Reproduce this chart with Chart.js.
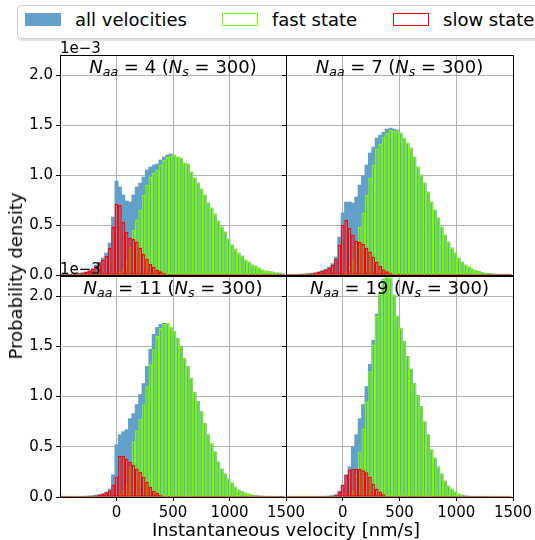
<!DOCTYPE html>
<html>
<head>
<meta charset="utf-8">
<script src="https://cdn.jsdelivr.net/npm/chart.js@4.4.1/dist/chart.umd.min.js"></script>
<style>
  html, body { margin: 0; padding: 0; background: #fff; }
  body { width: 535px; height: 540px; position: relative; overflow: hidden; font-family: "DejaVu Sans", sans-serif; color: #000; }
  canvas { position: absolute; }
  .legend { position: absolute; left: 17px; top: 5px; width: 540px; height: 32px; border: 1px solid #cfcfcf; border-radius: 4px; background: #fff; box-shadow: 1px 2px 1px rgba(0,0,0,0.12); }
  .legend .swatch { position: absolute; top: 7px; width: 36px; height: 13px; box-sizing: border-box; }
  .legend .name { position: absolute; top: 5px; font-size: 18px; line-height: 18px; white-space: nowrap; }
  .xlabel { position: absolute; left: 286px; top: 521px; transform: translateX(-50%); font-size: 18px; line-height: 18px; white-space: nowrap; }
  .ylabel { position: absolute; left: 15.5px; top: 276px; transform: translate(-50%, -50%) rotate(-90deg); font-size: 18px; line-height: 18px; white-space: nowrap; }
</style>
</head>
<body>

<div class="legend">
  <div class="swatch" style="left:7px; background: rgb(98,160,202);"></div>
  <div class="name" style="left:57px;">all velocities</div>
  <div class="swatch" style="left:204px; border: 1.5px solid #7cfc00;"></div>
  <div class="name" style="left:254px;">fast state</div>
  <div class="swatch" style="left:375px; border: 1.5px solid #ff0000;"></div>
  <div class="name" style="left:425px;">slow state</div>
</div>

<canvas id="c4" width="312" height="255" style="left:0px; top:35px;"></canvas>
<canvas id="c7" width="263" height="255" style="left:276px; top:35px;"></canvas>
<canvas id="c11" width="312" height="284" style="left:0px; top:256px;"></canvas>
<canvas id="c19" width="263" height="284" style="left:276px; top:256px;"></canvas>

<div class="ylabel">Probability density</div>
<div class="xlabel">Instantaneous velocity [nm/s]</div>

<script>
// histogram bins: 30 nm/s wide, centres from -480 to 1470
const binStart = -480;
const binWidth = 30;
const binCenters = Array.from({ length: 66 }, (_, i) => binStart + i * binWidth);

const xTicks = [0, 500, 1000, 1500];
const yTicks = [0, 0.5, 1.0, 1.5, 2.0];

// densities in units of 1e-3
const all4 = [
  0.004, 0.006, 0.008, 0.011, 0.014, 0.018, 0.024, 0.032, 0.045, 0.065,
  0.10, 0.13, 0.17, 0.22, 0.32, 0.58, 0.94, 0.88, 0.80, 0.74,
  0.73, 0.80, 0.88, 0.92, 0.98, 1.05, 1.08, 1.10, 1.11, 1.15,
  1.18, 1.20, 1.21, 1.20, 1.18, 1.17, 1.12, 1.11, 1.03, 0.97,
  0.92, 0.86, 0.80, 0.72, 0.67, 0.61, 0.54, 0.48, 0.43, 0.36,
  0.30, 0.26, 0.22, 0.19, 0.15, 0.13, 0.10, 0.09, 0.07, 0.05,
  0.04, 0.035, 0.03, 0.02, 0.02, 0.012
];
const fast4 = [
  0, 0, 0, 0, 0, 0, 0, 0, 0, 0,
  0, 0, 0, 0, 0, 0, 0.01, 0.03, 0.06, 0.14,
  0.28, 0.45, 0.55, 0.65, 0.80, 0.90, 0.98, 1.02, 1.05, 1.10,
  1.15, 1.18, 1.19, 1.20, 1.18, 1.17, 1.12, 1.11, 1.03, 0.97,
  0.92, 0.86, 0.80, 0.72, 0.67, 0.61, 0.54, 0.48, 0.43, 0.36,
  0.30, 0.26, 0.22, 0.19, 0.15, 0.13, 0.10, 0.09, 0.07, 0.05,
  0.04, 0.035, 0.03, 0.02, 0.02, 0.012
];
const slow4 = [
  0.003, 0.005, 0.007, 0.01, 0.012, 0.016, 0.02, 0.03, 0.04, 0.06,
  0.09, 0.12, 0.15, 0.19, 0.27, 0.48, 0.71, 0.70, 0.53, 0.43,
  0.37, 0.36, 0.33, 0.27, 0.21, 0.16, 0.11, 0.08, 0.05, 0.035,
  0.02, 0.012, 0.007, 0.004, 0.002, 0, 0, 0, 0, 0,
  0, 0, 0, 0, 0, 0, 0, 0, 0, 0,
  0, 0, 0, 0, 0, 0, 0, 0, 0, 0,
  0, 0, 0, 0, 0, 0
];

const all7 = [
  0.003, 0.004, 0.005, 0.007, 0.009, 0.011, 0.014, 0.019, 0.025, 0.033,
  0.045, 0.06, 0.08, 0.115, 0.18, 0.38, 0.62, 0.73, 0.73, 0.72,
  0.78, 0.90, 0.99, 1.10, 1.22, 1.28, 1.37, 1.40, 1.43, 1.46,
  1.47, 1.46, 1.45, 1.42, 1.37, 1.32, 1.27, 1.18, 1.08, 1.00,
  0.92, 0.83, 0.73, 0.65, 0.57, 0.48, 0.40, 0.33, 0.27, 0.22,
  0.17, 0.13, 0.10, 0.08, 0.06, 0.045, 0.035, 0.025, 0.018, 0.013,
  0.01, 0.008, 0.006, 0.005, 0.004, 0.003
];
const fast7 = [
  0, 0, 0, 0, 0, 0, 0, 0, 0, 0,
  0, 0, 0, 0, 0, 0, 0.01, 0.03, 0.08, 0.15,
  0.30, 0.48, 0.62, 0.80, 0.97, 1.10, 1.26, 1.31, 1.38, 1.42,
  1.45, 1.44, 1.44, 1.42, 1.37, 1.32, 1.27, 1.18, 1.08, 1.00,
  0.92, 0.83, 0.73, 0.65, 0.57, 0.48, 0.40, 0.33, 0.27, 0.22,
  0.17, 0.13, 0.10, 0.08, 0.06, 0.045, 0.035, 0.025, 0.018, 0.013,
  0.01, 0.008, 0.006, 0.005, 0.004, 0.003
];
const slow7 = [
  0.003, 0.004, 0.005, 0.006, 0.008, 0.01, 0.013, 0.017, 0.022, 0.03,
  0.04, 0.05, 0.07, 0.10, 0.16, 0.30, 0.50, 0.55, 0.47, 0.40,
  0.34, 0.33, 0.31, 0.27, 0.23, 0.18, 0.13, 0.09, 0.055, 0.035,
  0.02, 0.012, 0.006, 0.003, 0, 0, 0, 0, 0, 0,
  0, 0, 0, 0, 0, 0, 0, 0, 0, 0,
  0, 0, 0, 0, 0, 0, 0, 0, 0, 0,
  0, 0, 0, 0, 0, 0
];

const all11 = [
  0.002, 0.002, 0.003, 0.003, 0.004, 0.005, 0.006, 0.008, 0.011, 0.014,
  0.019, 0.026, 0.034, 0.05, 0.08, 0.22, 0.52, 0.62, 0.65, 0.67,
  0.78, 0.83, 0.92, 1.02, 1.13, 1.30, 1.47, 1.62, 1.69, 1.72,
  1.73, 1.73, 1.69, 1.65, 1.58, 1.50, 1.38, 1.30, 1.18, 1.04,
  0.95, 0.85, 0.73, 0.62, 0.53, 0.45, 0.35, 0.28, 0.23, 0.18,
  0.14, 0.10, 0.07, 0.055, 0.04, 0.03, 0.02, 0.015, 0.01, 0.008,
  0.006, 0.004, 0.003, 0.002, 0.002, 0.001
];
const fast11 = [
  0, 0, 0, 0, 0, 0, 0, 0, 0, 0,
  0, 0, 0, 0, 0, 0, 0.01, 0.03, 0.06, 0.12,
  0.30, 0.55, 0.66, 0.78, 0.92, 1.10, 1.32, 1.47, 1.60, 1.68,
  1.72, 1.73, 1.69, 1.65, 1.58, 1.50, 1.38, 1.30, 1.18, 1.04,
  0.95, 0.85, 0.73, 0.62, 0.53, 0.45, 0.35, 0.28, 0.23, 0.18,
  0.14, 0.10, 0.07, 0.055, 0.04, 0.03, 0.02, 0.015, 0.01, 0.008,
  0.006, 0.004, 0.003, 0.002, 0.002, 0.001
];
const slow11 = [
  0.002, 0.002, 0.002, 0.003, 0.003, 0.004, 0.005, 0.007, 0.009, 0.012,
  0.016, 0.022, 0.03, 0.045, 0.065, 0.12, 0.20, 0.41, 0.41, 0.38,
  0.35, 0.32, 0.28, 0.25, 0.20, 0.15, 0.10, 0.06, 0.04, 0.02,
  0.01, 0.005, 0.002, 0, 0, 0, 0, 0, 0, 0,
  0, 0, 0, 0, 0, 0, 0, 0, 0, 0,
  0, 0, 0, 0, 0, 0, 0, 0, 0, 0,
  0, 0, 0, 0, 0, 0
];

const all19 = [
  0.001, 0.001, 0.001, 0.001, 0.002, 0.002, 0.002, 0.003, 0.003, 0.004,
  0.005, 0.007, 0.01, 0.015, 0.025, 0.06, 0.12, 0.22, 0.30, 0.50,
  0.62, 0.78, 0.92, 1.10, 1.32, 1.56, 1.82, 2.03, 2.17, 2.19,
  2.18, 2.01, 1.80, 1.68, 1.55, 1.40, 1.27, 1.13, 1.01, 0.90,
  0.75, 0.62, 0.47, 0.39, 0.30, 0.23, 0.16, 0.11, 0.08, 0.05,
  0.03, 0.02, 0.012, 0.008, 0.005, 0.003, 0.002, 0.001, 0.001, 0,
  0, 0, 0, 0, 0, 0
];
const fast19 = [
  0, 0, 0, 0, 0, 0, 0, 0, 0, 0,
  0, 0, 0, 0, 0, 0, 0, 0.005, 0.02, 0.06,
  0.22, 0.45, 0.68, 0.95, 1.25, 1.52, 1.80, 2.02, 2.16, 2.19,
  2.18, 2.01, 1.80, 1.68, 1.55, 1.40, 1.27, 1.13, 1.01, 0.90,
  0.75, 0.62, 0.47, 0.39, 0.30, 0.23, 0.16, 0.11, 0.08, 0.05,
  0.03, 0.02, 0.012, 0.008, 0.005, 0.003, 0.002, 0.001, 0.001, 0,
  0, 0, 0, 0, 0, 0
];
const slow19 = [
  0.001, 0.001, 0.001, 0.001, 0.001, 0.001, 0.002, 0.002, 0.002, 0.003,
  0.003, 0.004, 0.006, 0.01, 0.02, 0.05, 0.12, 0.22, 0.27, 0.28,
  0.28, 0.28, 0.265, 0.245, 0.20, 0.13, 0.08, 0.05, 0.025, 0.012,
  0.005, 0.002, 0, 0, 0, 0, 0, 0, 0, 0,
  0, 0, 0, 0, 0, 0, 0, 0, 0, 0,
  0, 0, 0, 0, 0, 0, 0, 0, 0, 0,
  0, 0, 0, 0, 0, 0
];

const FONT = '"DejaVu Sans", sans-serif';
Chart.defaults.font.family = FONT;
Chart.defaults.color = '#000';

function toPoints(values) {
  return values.map((y, i) => ({ x: binCenters[i], y: y }));
}

// frame around the axes, the N_aa title and the 1e-3 offset text
const panelDecor = {
  id: 'panelDecor',
  afterDraw(chart, args, opts) {
    const { ctx, chartArea: a } = chart;
    ctx.save();
    ctx.strokeStyle = '#000';
    ctx.lineWidth = 1;
    ctx.strokeRect(a.left + 0.5, a.top + 0.5, a.right - a.left, a.bottom - a.top);

    const big = 18, small = 12.6;
    const parts = [
      { t: 'N', f: `italic ${big}px ${FONT}`, dy: 0 },
      { t: 'aa', f: `italic ${small}px ${FONT}`, dy: 3.4 },
      { t: ` = ${opts.naa} (`, f: `${big}px ${FONT}`, dy: 0 },
      { t: 'N', f: `italic ${big}px ${FONT}`, dy: 0 },
      { t: 's', f: `italic ${small}px ${FONT}`, dy: 3.4 },
      { t: ` = ${opts.ns})`, f: `${big}px ${FONT}`, dy: 0 }
    ];
    let total = 0;
    parts.forEach(p => { ctx.font = p.f; p.w = ctx.measureText(p.t).width; total += p.w; });
    let x = (a.left + a.right) / 2 - total / 2;
    const base = a.top + 18;
    ctx.fillStyle = '#000';
    ctx.textBaseline = 'alphabetic';
    ctx.textAlign = 'left';
    parts.forEach(p => { ctx.font = p.f; ctx.fillText(p.t, x, base + p.dy); x += p.w; });

    if (opts.offsetText) {
      ctx.font = `15px ${FONT}`;
      ctx.fillText('1e\u22123', a.left, a.top - 2.5);
    }
    ctx.restore();
  }
};

function makePanel(canvasId, p) {
  return new Chart(document.getElementById(canvasId), {
    type: 'bar',
    data: {
      datasets: [
        {
          label: 'slow state',
          data: toPoints(p.slow),
          backgroundColor: 'rgba(0,0,0,0)',
          borderColor: '#ff0000',
          borderWidth: 1,
          borderSkipped: false,
          inflateAmount: 0.15,
          minBarLength: 1
        },
        {
          label: 'fast state',
          data: toPoints(p.fast),
          backgroundColor: 'rgba(0,0,0,0)',
          borderColor: '#7cfc00',
          borderWidth: 1,
          borderSkipped: false,
          inflateAmount: 0.15,
          minBarLength: 1
        },
        {
          label: 'all velocities',
          data: toPoints(p.all),
          backgroundColor: 'rgb(98,160,202)',
          borderWidth: 0
        }
      ]
    },
    options: {
      responsive: false,
      animation: false,
      devicePixelRatio: 1,
      datasets: { bar: { grouped: false, barPercentage: 1, categoryPercentage: 1 } },
      layout: { padding: { top: 20, right: 26, left: 0, bottom: 0 } },
      plugins: {
        legend: { display: false },
        tooltip: { enabled: false },
        panelDecor: { naa: p.naa, ns: 300, offsetText: p.showY }
      },
      scales: {
        x: {
          type: 'linear',
          min: -500,
          max: 1500,
          offset: false,
          z: 1,
          afterBuildTicks: s => { s.ticks = xTicks.map(v => ({ value: v })); },
          afterFit: s => { s.height = p.xSpace; },
          ticks: { display: p.showX, font: { size: 15 }, color: '#000', padding: 3, maxRotation: 0, autoSkip: false, callback: v => String(v) },
          grid: { offset: false, color: '#b0b0b0', lineWidth: 1, tickColor: '#000', tickLength: 4 },
          border: { color: '#000', width: 1 }
        },
        y: {
          min: 0,
          max: 2.2,
          z: 1,
          afterBuildTicks: s => { s.ticks = yTicks.map(v => ({ value: v })); },
          afterFit: s => { s.width = p.ySpace; },
          ticks: { display: p.showY, font: { size: 15 }, color: '#000', padding: 3, callback: v => v.toFixed(1) },
          grid: { color: '#b0b0b0', lineWidth: 1, tickColor: '#000', tickLength: 4 },
          border: { color: '#000', width: 1 }
        }
      }
    },
    plugins: [panelDecor]
  });
}

makePanel('c4',  { naa: 4,  all: all4,  fast: fast4,  slow: slow4,  showX: false, showY: true,  xSpace: 15, ySpace: 60 });
makePanel('c7',  { naa: 7,  all: all7,  fast: fast7,  slow: slow7,  showX: false, showY: false, xSpace: 15, ySpace: 10 });
makePanel('c11', { naa: 11, all: all11, fast: fast11, slow: slow11, showX: true,  showY: true,  xSpace: 43, ySpace: 60 });
makePanel('c19', { naa: 19, all: all19, fast: fast19, slow: slow19, showX: true,  showY: false, xSpace: 43, ySpace: 10 });
</script>
</body>
</html>
